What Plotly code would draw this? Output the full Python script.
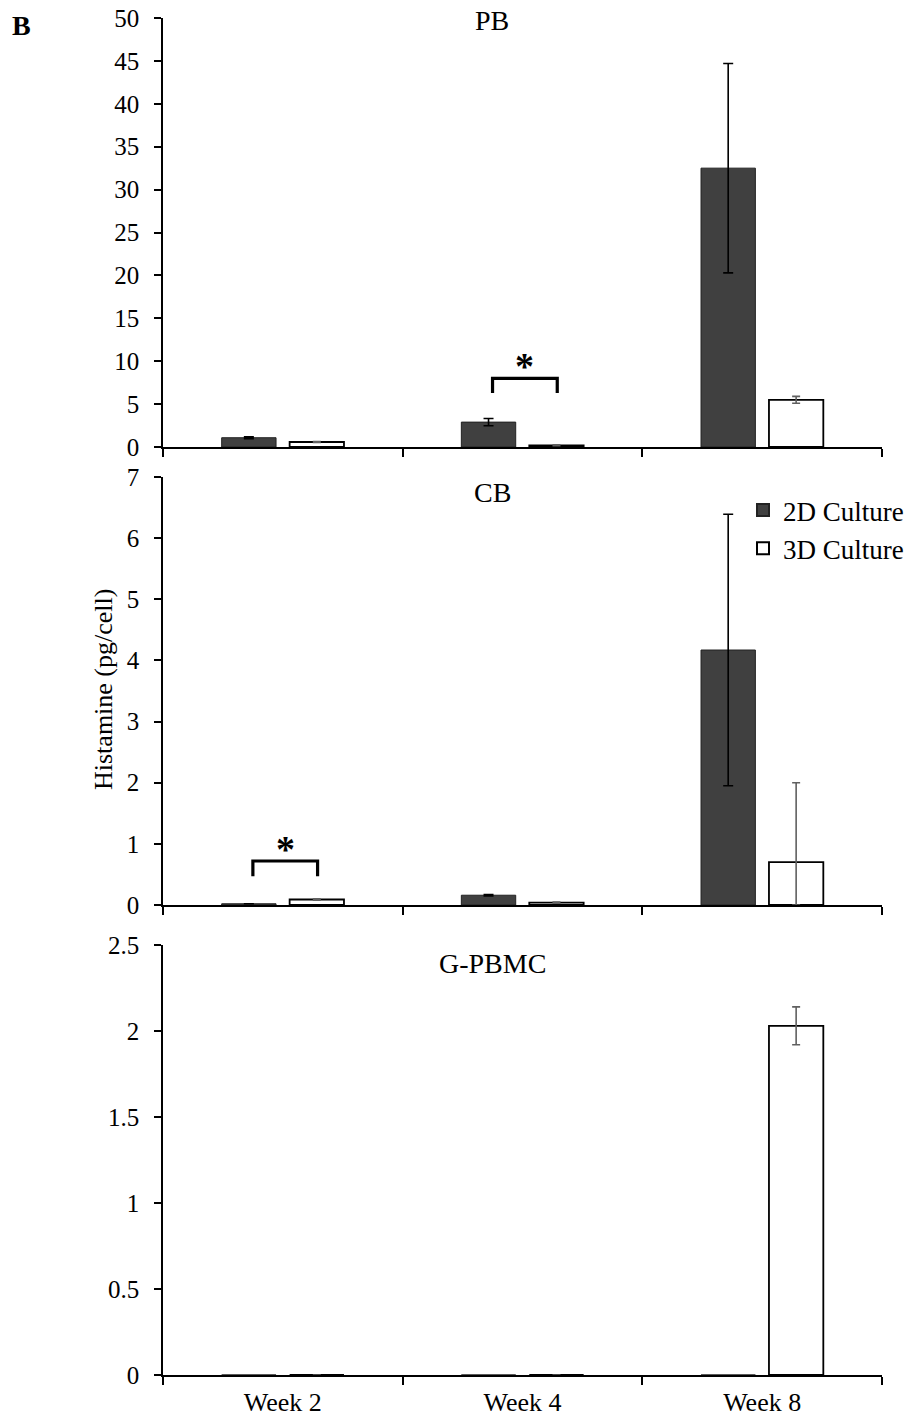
import plotly.graph_objects as go

weeks = ["Week 2", "Week 4", "Week 8"]

# PB panel
pb_2d = [1.08, 2.9, 32.5]
pb_2d_err = [0.1, 0.43, 12.2]
pb_3d = [0.58, 0.2, 5.5]
pb_3d_err = [0.05, 0.05, 0.4]

# CB panel
cb_2d = [0.02, 0.16, 4.17]
cb_2d_err = [0.0, 0.01, 2.22]
cb_3d = [0.09, 0.04, 0.70]
cb_3d_err_plus = [0.01, 0.01, 1.3]
cb_3d_err_minus = [0.01, 0.01, 0.70]

# G-PBMC panel
gp_2d = [0, 0, 0]
gp_3d = [0, 0, 2.03]
gp_3d_err = [0, 0, 0.11]

panel_titles = ["PB", "CB", "G-PBMC"]
y_ranges = [[0, 50], [0, 7], [0, 2.5]]
y_dticks = [5, 1, 0.5]

FONT = "Liberation Serif"
DARK = "#404040"
OFF = 8               # page body margin
W, H = 896, 1406
MT, MB = 2, 2
PH = H - MT - MB
L = 163 - OFF
R = W - (882 - OFF)
PW = W - L - R

def fy(px):
    """screen pixel row -> paper fraction"""
    return (H - MB - (px - OFF)) / PH

def fx(px):
    return (px - OFF - L) / PW

domains = [[fy(447), fy(18)], [fy(905), fy(477)], [fy(1375), fy(945)]]
title_rows = [20, 492, 963]

fig = go.Figure()

panels = [
    (pb_2d, dict(type="data", array=pb_2d_err), pb_3d, dict(type="data", array=pb_3d_err)),
    (cb_2d, dict(type="data", array=cb_2d_err), cb_3d,
     dict(type="data", symmetric=False, array=cb_3d_err_plus, arrayminus=cb_3d_err_minus)),
    (gp_2d, None, gp_3d, dict(type="data", array=gp_3d_err)),
]

for i, (v2, e2, v3, e3) in enumerate(panels):
    xa = "x" if i == 0 else f"x{i+1}"
    ya = "y" if i == 0 else f"y{i+1}"
    show = (i == 0)
    err2 = dict(e2, color="#000000", thickness=1.6, width=5) if e2 else None
    err3 = dict(e3, color="#606060", thickness=1.6, width=4)
    fig.add_trace(go.Bar(
        x=weeks, y=v2, name="2D Culture", legendgroup="2d", showlegend=show,
        marker=dict(color=DARK, line=dict(color="#222222", width=1)),
        error_y=err2, xaxis=xa, yaxis=ya,
    ))
    fig.add_trace(go.Bar(
        x=weeks, y=v3, name="3D Culture", legendgroup="3d", showlegend=show,
        marker=dict(color="white", line=dict(color="#000000", width=1.8)),
        error_y=err3, xaxis=xa, yaxis=ya,
    ))

axis_common = dict(showgrid=False, zeroline=False, showline=True, linecolor="#000000",
                   linewidth=1.6, ticks="outside", tickcolor="#000000", tickwidth=1.6,
                   automargin=False, ticklabeloverflow="allow")

layout = dict(
    width=W, height=H,
    margin=dict(l=L, r=R, t=MT, b=MB, autoexpand=False),
    paper_bgcolor="white", plot_bgcolor="white",
    barmode="group", bargap=0.433, bargroupgap=0.2,
    font=dict(family=FONT, color="#000000"),
    showlegend=True,
    legend=dict(x=fx(743), xanchor="left", y=fy(486), yanchor="top",
                font=dict(family=FONT, size=27, color="#000000"),
                bgcolor="rgba(0,0,0,0)", tracegroupgap=0, itemsizing="constant"),
)

for i in range(3):
    xk = "xaxis" if i == 0 else f"xaxis{i+1}"
    yk = "yaxis" if i == 0 else f"yaxis{i+1}"
    ya = "y" if i == 0 else f"y{i+1}"
    xa = "x" if i == 0 else f"x{i+1}"
    layout[xk] = dict(axis_common, anchor=ya, domain=[0, 1], tickson="boundaries", ticklen=8,
                      showticklabels=(i == 2), tickfont=dict(family=FONT, size=26, color="#000000"),
                      ticklabelstandoff=3, categoryorder="array", categoryarray=weeks,
                      range=[-0.5, 2.5])
    layout[yk] = dict(axis_common, anchor=xa, domain=domains[i], range=y_ranges[i],
                      dtick=y_dticks[i], tick0=0, ticklen=7,
                      tickfont=dict(family=FONT, size=25, color="#000000"),
                      ticklabelstandoff=10)

fig.update_layout(**layout)

annotations = []
for i, t in enumerate(panel_titles):
    annotations.append(dict(text=t, xref="paper", yref="paper", x=fx(492),
                            y=fy(title_rows[i]), yanchor="middle", xanchor="center",
                            showarrow=False, font=dict(family=FONT, size=28, color="#000000")))
annotations.append(dict(text="<b>B</b>", xref="paper", yref="paper", x=fx(10), xanchor="left",
                        y=fy(25), yanchor="middle", showarrow=False,
                        font=dict(family=FONT, size=28, color="#000000")))
annotations.append(dict(text="Histamine (pg/cell)", xref="paper", yref="paper", x=fx(103),
                        xanchor="center", y=fy(690), yanchor="middle", textangle=-90,
                        showarrow=False, font=dict(family=FONT, size=26, color="#000000")))

# significance brackets: (axis index, category index, top, leg bottom, star y)
brackets = [(0, 1, 8.0, 6.3, 6.8), (1, 0, 0.72, 0.47, 0.54)]
shapes = []
for ai, ci, top, bot, sy in brackets:
    xr = "x" if ai == 0 else f"x{ai+1}"
    yr = "y" if ai == 0 else f"y{ai+1}"
    x0, x1 = ci - 0.125, ci + 0.145
    shapes.append(dict(type="path", xref=xr, yref=yr,
                       path=f"M {x0} {bot} L {x0} {top} L {x1} {top} L {x1} {bot}",
                       line=dict(color="#000000", width=3.2)))
    annotations.append(dict(text="<b>*</b>", xref=xr, yref=yr, x=(x0 + x1) / 2, y=sy,
                            yanchor="bottom", xanchor="center", showarrow=False,
                            font=dict(family=FONT, size=38, color="#000000")))

fig.update_layout(annotations=annotations, shapes=shapes)
fig.write_html("out.html")
